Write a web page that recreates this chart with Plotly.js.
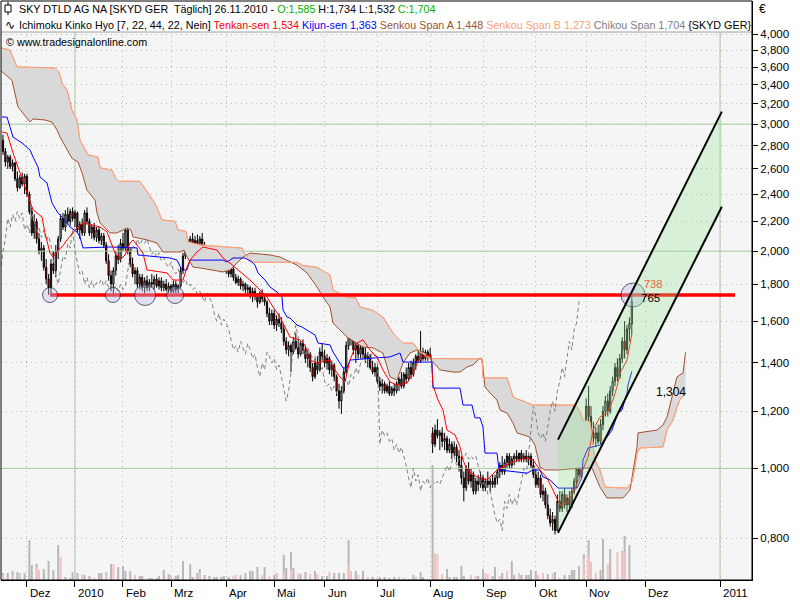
<!DOCTYPE html>
<html><head><meta charset="utf-8">
<script src="https://cdn.plot.ly/plotly-3.0.1.min.js"></script>
<style>html,body{margin:0;padding:0;background:#fff;}#chart{width:800px;height:600px;}</style>
</head><body><div id="chart"></div>
<script>
// ---- daily OHLC, bar 0 = 17.11.2009 ... bar 262 = 26.11.2010 ----
const openP = [
2.85,2.75,2.66,2.70,2.62,2.65,2.52,2.45,2.53,2.48,
2.54,2.40,2.27,2.12,2.20,2.08,2.00,2.02,1.90,1.83,
1.78,1.92,1.88,2.00,2.08,2.22,2.16,2.25,2.20,2.27,
2.22,2.26,2.14,2.18,2.12,2.26,2.20,2.12,2.16,2.09,
2.14,2.07,2.10,2.04,1.94,1.85,1.80,1.88,1.97,1.95,
2.05,2.02,2.14,2.00,1.92,1.86,1.88,1.80,1.84,1.78,
1.82,1.78,1.81,1.80,1.83,1.79,1.82,1.78,1.80,1.77,
1.79,1.76,1.80,1.77,1.79,1.88,1.97,2.04,2.02,2.08,
2.04,2.07,2.05,2.08,2.03,1.98,2.00,1.96,1.99,1.94,
1.96,1.92,1.90,1.93,1.88,1.86,1.89,1.84,1.81,1.83,
1.79,1.80,1.77,1.78,1.74,1.76,1.73,1.70,1.75,1.72,
1.70,1.64,1.60,1.64,1.58,1.61,1.59,1.56,1.50,1.46,
1.48,1.45,1.50,1.47,1.44,1.49,1.46,1.42,1.44,1.38,
1.34,1.40,1.37,1.45,1.43,1.40,1.42,1.37,1.39,1.34,
1.28,1.24,1.28,1.36,1.48,1.58,1.52,1.46,1.48,1.44,
1.47,1.44,1.42,1.43,1.38,1.36,1.38,1.32,1.30,1.31,
1.28,1.30,1.27,1.29,1.28,1.31,1.33,1.30,1.35,1.33,
1.38,1.35,1.40,1.43,1.41,1.45,1.42,1.45,1.43,1.12,
1.08,1.13,1.11,1.12,1.09,1.10,1.06,1.08,1.05,1.07,
1.04,1.01,0.97,0.94,1.00,0.96,0.98,0.93,0.96,0.95,
0.97,0.94,0.96,0.95,0.96,0.95,0.97,0.99,1.01,0.99,
1.02,1.04,1.01,1.03,1.04,1.03,1.05,1.03,1.04,1.03,
1.04,1.01,0.98,0.95,0.97,0.92,0.93,0.89,0.86,0.84,
0.85,0.82,0.90,0.88,0.92,0.89,0.91,0.89,0.93,0.96,
1.00,0.98,1.05,1.14,1.22,1.18,1.12,1.10,1.12,1.09,
1.15,1.20,1.24,1.20,1.28,1.32,1.38,1.34,1.42,1.50,
1.46,1.56,1.585];
const highP = [
2.90,2.78,2.72,2.72,2.68,2.66,2.58,2.55,2.57,2.56,
2.56,2.42,2.30,2.25,2.22,2.12,2.06,2.04,1.95,1.86,
1.95,2.00,2.04,2.10,2.25,2.26,2.28,2.30,2.29,2.30,
2.28,2.27,2.20,2.22,2.28,2.30,2.22,2.18,2.19,2.16,
2.16,2.12,2.12,2.06,1.98,1.88,1.90,2.00,2.04,2.08,
2.12,2.17,2.16,2.02,1.96,1.90,1.90,1.86,1.86,1.84,
1.85,1.83,1.86,1.85,1.86,1.84,1.84,1.82,1.83,1.81,
1.80,1.82,1.82,1.80,1.90,1.99,2.06,2.08,2.10,2.12,
2.10,2.11,2.10,2.12,2.06,2.02,2.03,2.01,2.00,1.98,
1.97,1.95,1.94,1.94,1.91,1.90,1.90,1.86,1.85,1.84,
1.82,1.81,1.80,1.79,1.78,1.78,1.75,1.76,1.77,1.74,
1.71,1.67,1.66,1.66,1.63,1.64,1.62,1.58,1.52,1.50,
1.49,1.52,1.54,1.51,1.50,1.51,1.48,1.46,1.45,1.40,
1.42,1.43,1.47,1.49,1.46,1.44,1.43,1.41,1.40,1.35,
1.31,1.30,1.38,1.50,1.64,1.62,1.55,1.50,1.50,1.49,
1.50,1.47,1.45,1.44,1.41,1.40,1.39,1.34,1.33,1.32,
1.31,1.32,1.30,1.31,1.32,1.34,1.36,1.36,1.38,1.40,
1.41,1.42,1.44,1.46,1.55,1.47,1.46,1.46,1.47,1.14,
1.15,1.17,1.13,1.14,1.12,1.11,1.10,1.09,1.09,1.08,
1.06,1.04,0.99,1.01,1.02,1.00,0.99,0.97,0.98,0.99,
0.98,0.97,0.99,0.97,0.98,0.98,1.00,1.02,1.04,1.03,
1.05,1.05,1.04,1.05,1.06,1.05,1.06,1.05,1.06,1.05,
1.05,1.03,1.00,0.99,0.98,0.95,0.94,0.92,0.88,0.87,
0.86,0.92,0.93,0.93,0.94,0.92,0.93,0.94,0.97,1.02,
1.04,1.06,1.16,1.25,1.30,1.22,1.16,1.14,1.15,1.17,
1.22,1.26,1.27,1.30,1.34,1.40,1.42,1.44,1.52,1.60,
1.58,1.62,1.734];
const lowP = [
2.72,2.62,2.60,2.60,2.58,2.50,2.42,2.44,2.46,2.40,
2.38,2.25,2.10,2.08,2.05,1.98,1.94,1.88,1.80,1.74,
1.74,1.86,1.84,1.95,2.06,2.14,2.13,2.18,2.17,2.20,
2.16,2.12,2.08,2.10,2.10,2.18,2.10,2.08,2.07,2.06,
2.05,2.04,2.02,1.92,1.82,1.76,1.74,1.85,1.92,1.93,
2.00,2.00,1.98,1.90,1.84,1.80,1.78,1.77,1.76,1.75,
1.76,1.76,1.78,1.77,1.78,1.77,1.76,1.76,1.76,1.75,
1.75,1.75,1.75,1.75,1.78,1.86,1.95,2.00,2.00,2.02,
2.00,2.02,2.00,2.02,1.96,1.95,1.94,1.93,1.92,1.91,
1.90,1.87,1.88,1.86,1.84,1.84,1.82,1.80,1.79,1.77,
1.76,1.75,1.74,1.72,1.70,1.71,1.67,1.69,1.70,1.68,
1.62,1.58,1.58,1.56,1.55,1.57,1.54,1.48,1.44,1.43,
1.36,1.44,1.46,1.42,1.43,1.44,1.40,1.38,1.36,1.32,
1.33,1.35,1.36,1.41,1.38,1.37,1.35,1.34,1.32,1.26,
1.21,1.19,1.27,1.35,1.46,1.48,1.44,1.40,1.42,1.42,
1.42,1.40,1.38,1.37,1.35,1.34,1.31,1.28,1.27,1.27,
1.27,1.26,1.26,1.26,1.27,1.28,1.29,1.29,1.31,1.32,
1.33,1.34,1.37,1.40,1.40,1.41,1.41,1.41,1.42,1.05,
1.07,1.10,1.06,1.07,1.06,1.05,1.05,1.03,1.04,1.02,
0.99,0.95,0.90,0.93,0.95,0.94,0.92,0.92,0.93,0.94,
0.93,0.93,0.94,0.93,0.94,0.94,0.95,0.97,0.98,0.98,
1.00,1.00,1.00,1.01,1.02,1.02,1.02,1.02,1.02,1.01,
1.00,0.97,0.94,0.94,0.91,0.90,0.88,0.85,0.83,0.82,
0.81,0.82,0.87,0.87,0.88,0.87,0.88,0.88,0.92,0.94,
0.97,0.97,1.04,1.12,1.15,1.10,1.08,1.07,1.08,1.08,
1.13,1.18,1.18,1.19,1.26,1.30,1.32,1.33,1.40,1.42,
1.44,1.50,1.532];
const closeP = [
2.75,2.66,2.70,2.62,2.65,2.52,2.45,2.53,2.48,2.54,
2.40,2.27,2.12,2.20,2.08,2.00,2.02,1.90,1.83,1.78,
1.92,1.88,2.00,2.08,2.22,2.16,2.25,2.20,2.27,2.22,
2.26,2.14,2.18,2.12,2.26,2.20,2.12,2.16,2.09,2.14,
2.07,2.10,2.04,1.94,1.85,1.80,1.88,1.97,1.95,2.05,
2.02,2.14,2.00,1.92,1.86,1.88,1.80,1.84,1.78,1.82,
1.78,1.81,1.80,1.83,1.79,1.82,1.78,1.80,1.77,1.79,
1.76,1.80,1.77,1.79,1.88,1.97,2.04,2.02,2.08,2.04,
2.07,2.05,2.08,2.03,1.98,2.00,1.96,1.99,1.94,1.96,
1.92,1.90,1.93,1.88,1.86,1.89,1.84,1.81,1.83,1.79,
1.80,1.77,1.78,1.74,1.76,1.73,1.70,1.75,1.72,1.70,
1.64,1.60,1.64,1.58,1.61,1.59,1.56,1.50,1.46,1.48,
1.45,1.50,1.47,1.44,1.49,1.46,1.42,1.44,1.38,1.34,
1.40,1.37,1.45,1.43,1.40,1.42,1.37,1.39,1.34,1.28,
1.24,1.28,1.36,1.48,1.58,1.52,1.46,1.48,1.44,1.47,
1.44,1.42,1.43,1.38,1.36,1.38,1.32,1.30,1.31,1.28,
1.30,1.27,1.29,1.28,1.31,1.33,1.30,1.35,1.33,1.38,
1.35,1.40,1.43,1.41,1.45,1.42,1.45,1.43,1.44,1.08,
1.13,1.11,1.12,1.09,1.10,1.06,1.08,1.05,1.07,1.04,
1.01,0.97,0.94,1.00,0.96,0.98,0.93,0.96,0.95,0.97,
0.94,0.96,0.95,0.96,0.95,0.97,0.99,1.01,0.99,1.02,
1.04,1.01,1.03,1.04,1.03,1.05,1.03,1.04,1.03,1.04,
1.01,0.98,0.95,0.97,0.92,0.93,0.89,0.86,0.84,0.85,
0.82,0.90,0.88,0.92,0.89,0.91,0.89,0.93,0.96,1.00,
0.98,1.05,1.14,1.22,1.18,1.12,1.10,1.12,1.09,1.15,
1.20,1.24,1.20,1.28,1.32,1.38,1.34,1.42,1.50,1.46,
1.56,1.59,1.704];

// ---- Ichimoku lines (bar index, value) ----
const tenkanIdx = [-0.42,1.67,4.17,7.08,11.25,12.5,16.25,17.5,19.58,20.83,22.92,24.58,26.67,30,33.33,37.08,40.42,43.33,44.58,46.67,48.75,50.83,52.92,54.17,55.83,58.33,60,65.42,68.33,70.83,75,76.67,77.92,80.83,83.33,89.17,91.67,94.58,98.75,102.92,107.08,110,112.5,115.42,117.5,119.58,123.75,125.83,127.92,130.83,136.25,137.5,140.42,142.5,144.58,147.5,150,152.92,155.83,158.33,161.25,164.17,168.33,170.83,173.75,178.33,179.17,181.25,183.33,185,188.33,190.42,191.67,193.33,197.5,201.67,205.83,208.33,211.25,217.5,220.83,223.75,226.67,229.17,232.08,235,237.5,240.42,243.75,245.83,248.75,251.67,254.17,255.83,257.08,260,261.25,262];
const tenkanVal = [2.926,2.916,2.737,2.568,2.333,2.282,2.231,2.12,1.988,1.963,2.007,2.027,2.073,2.14,2.189,2.175,2.161,2.127,2.073,1.988,1.944,1.976,2.053,2.073,2.04,1.988,1.884,1.872,1.866,1.824,1.824,1.901,1.944,1.995,2.027,2.007,1.957,1.926,1.872,1.824,1.767,1.728,1.674,1.621,1.57,1.521,1.507,1.483,1.413,1.40,1.413,1.382,1.339,1.318,1.413,1.492,1.507,1.459,1.427,1.369,1.318,1.305,1.313,1.356,1.427,1.436,1.305,1.244,1.205,1.13,1.113,1.071,1.027,0.995,0.973,0.964,0.995,1.004,1.017,1.034,1.027,0.995,0.97,0.933,0.89,0.896,0.925,0.973,1.037,1.13,1.178,1.193,1.244,1.297,1.356,1.413,1.483,1.534];

const kijunIdx = [-0.42,1.67,2.92,4.17,7.92,11.25,12.5,14.58,15.42,18.33,20.42,22.92,24.58,27.92,30.83,32.08,33.33,44.58,55.83,56.25,69.58,72.5,74.58,76.67,77.92,91.67,93.33,95.83,100.83,103.75,105,106.25,109.17,111.25,114.17,116.25,116.67,118.33,119.58,122.5,124.58,126.67,130,131.25,136.25,137.5,141.67,143.33,144.58,154.17,161.25,165.42,166.67,178.75,179.17,190.42,191.67,195.42,196.67,198.75,200,200.83,205.83,206.67,218.33,220.83,223.75,225,227.92,231.25,239.17,241.25,241.67,243.75,248.75,251.67,253.75,256.25,257.92,260,260.42,262];
const kijunVal = [3.069,3.069,2.973,2.879,2.825,2.763,2.703,2.617,2.535,2.487,2.333,2.259,2.231,2.161,2.127,2.093,2.021,2.027,2.021,1.976,1.957,1.944,1.884,1.884,1.944,1.944,1.932,1.957,1.957,1.932,1.913,1.866,1.824,1.784,1.756,1.728,1.658,1.621,1.616,1.58,1.57,1.555,1.531,1.492,1.483,1.45,1.378,1.378,1.413,1.422,1.427,1.445,1.404,1.404,1.292,1.292,1.224,1.224,1.175,1.175,1.141,1.05,1.05,0.995,0.985,0.995,0.995,0.973,0.964,0.939,0.939,0.973,1.027,1.067,1.077,1.105,1.13,1.193,1.205,1.272,1.305,1.363];

const spanAIdx = [-1.25,3.75,6.25,11.25,12.5,17.5,20.42,22.5,23.75,26.67,28.75,31.25,32.92,35,38.33,39.17,40.42,44.58,47.5,51.67,53.33,54.17,60,64.17,65.42,66.67,73.75,75.42,76.67,79.17,82.08,91.67,94.58,100,102.92,111.25,115.42,119.58,122.5,126.67,130.83,133.33,136.25,137.5,141.67,143.33,150,154.17,158.33,160,161.25,164.17,166.67,169.58,172.5,175.83,179.17,182.08,187.5,190.42,193.33,195.83,198.75,199.58,200.83,202.92,205.83,207.08,210,212.5,214.17,219.58,221.67,223.75,225.83,232.08,240.42,245.42,248.75,251.67,258.33,261.25,264.17,264.58,272.5,275,276.67,279.17,280.83,283.33,284.4];
const spanAVal = [3.566,3.45,3.17,3.02,3.05,3.04,3.02,2.944,2.88,2.76,2.69,2.66,2.57,2.43,2.355,2.26,2.19,2.12,2.12,2.154,2.14,2.093,2.073,2.053,2.021,1.995,1.995,2.007,1.963,1.901,1.896,1.872,1.884,1.963,1.988,1.976,1.963,1.932,1.913,1.866,1.784,1.728,1.674,1.59,1.54,1.521,1.473,1.469,1.445,1.382,1.339,1.326,1.40,1.445,1.459,1.445,1.404,1.369,1.36,1.36,1.382,1.391,1.422,1.418,1.297,1.272,1.244,1.205,1.193,1.156,1.12,1.105,1.077,1.004,0.995,0.995,1.001,1.001,0.942,0.91,0.91,0.933,1.071,1.12,1.13,1.149,1.178,1.272,1.339,1.356,1.448];

const spanBIdx = [-1.25,2.92,5.83,21.67,23.33,24.58,26.67,28.75,30.83,32.08,35.42,39.58,40.42,45.42,46.67,47.92,57.08,60,63.33,66.25,71.67,72.92,76.25,77.08,82.08,99.58,100.42,102.92,105,122.5,125,130.83,136.25,137.5,143.33,147.08,148.75,153.75,158.33,162.5,165.42,166.67,170.83,173.75,177.92,199.58,200,210,211.25,212.5,215.42,220.83,238.33,239.58,241.67,244.58,246.67,248.75,250.83,260,262.08,263.33,264.17,265.42,275,276.67,279.17,280.83,282.08,284.4];
const spanBVal = [3.83,3.80,3.60,3.59,3.543,3.42,3.346,3.139,3.04,2.85,2.72,2.70,2.61,2.59,2.535,2.50,2.50,2.42,2.33,2.21,2.20,2.14,2.13,2.06,2.04,2.02,1.99,1.94,1.93,1.93,1.91,1.90,1.854,1.767,1.728,1.722,1.674,1.658,1.621,1.54,1.507,1.492,1.492,1.45,1.42,1.418,1.335,1.335,1.297,1.256,1.244,1.224,1.224,1.213,1.167,1.16,1.027,0.995,0.942,0.939,0.958,1.004,1.05,1.067,1.071,1.13,1.167,1.216,1.244,1.273];

const chikouShift = 22;

// ---- volume (bar index, volume) ----
const grayIdx = [0,2,4,6,7,9,11,12,14,17,19,21,23,26,28,29,31,34,36,40,41,43,45,48,50,51,53,57,58,61,62,64,65,67,69,72,73,75,78,79,81,82,84,86,88,89,91,92,94,99,101,103,104,106,109,113,114,117,118,120,121,124,126,130,133,135,138,140,142,144,147,150,154,157,159,161,163,169,171,174,175,179,185,186,188,189,191,192,198,200,204,205,208,212,213,216,218,219,220,222,227,230,234,236,237,238,240,242,244,249,250,253,258,259,261];
const grayVol = [7,7,9,8,7,7,40,15,16,11,19,10,35,3,2,8,7,5,4,7,7,8,16,13,14,9,9,4,4,2,2,2,4,10,6,4,5,19,16,3,7,11,5,4,3,3,3,4,3,5,7,9,9,13,13,5,7,25,12,28,12,6,8,9,4,4,7,7,7,40,9,9,3,3,3,2,3,1,5,8,3,115,11,3,3,3,14,4,4,11,4,13,7,19,5,5,5,5,10,9,6,8,5,5,10,10,14,26,40,10,41,31,29,44,35];
const pinkIdx = [0,4,7,14,15,24,33,38,43,46,55,70,82,96,97,108,111,114,117,120,123,128,131,136,144,145,148,152,156,165,167,172,180,181,183,195,197,201,202,207,210,215,223,225,229,232,242,244,245,247,252,256,258,259];
const pinkVol = [5,5,7,12,10,23,6,2,7,16,5,5,7,4,5,5,4,7,7,10,7,6,6,8,15,9,5,3,2,3,2,3,27,26,6,5,4,7,6,4,9,7,5,7,7,2,21,24,18,7,16,28,28,27];

// ---- drawn objects ----
const supportIdx = [19.6, 305];
const supportLevel = [1.739, 1.739];
const circleIdx = [19.6, 45.8, 59.2, 71.7, 262.5];
const circleVal = [1.739, 1.739, 1.739, 1.739, 1.739];
const circleSize = [15, 15, 21, 17, 24];
const channelIdx = [231.25, 299.5];
const channelLow = [0.814, 2.305];
const channelHigh = [1.096, 3.122];

// ---- axes ----
const priceTicks = [0.8,1.0,1.2,1.4,1.6,1.8,2.0,2.2,2.4,2.6,2.8,3.0,3.2,3.4,3.6,3.8,4.0];
const priceTickText = ['0,800','1,000','1,200','1,400','1,600','1,800','2,000','2,200','2,400','2,600','2,800','3,000','3,200','3,400','3,600','3,800','4,000'];
const greenLevels = [1.0, 2.0, 3.0];
const monthIdx = [10,30,50,70,93,113,134,156,178,200,222,243,267.5,298.75];
const monthText = ['Dez','2010','Feb','Mrz','Apr','Mai','Jun','Jul','Aug','Sep','Okt','Nov','Dez','2011'];
const yearIdx = [30, 298.75];

const barIdx = closeP.map((_, k) => k);
const FONT = 'Liberation Sans, Arial, sans-serif';
const HDR = 10.75;
const GRID = 'rgb(176,192,176)';

const traces = [];
greenLevels.forEach(v => traces.push({type:'scatter', mode:'lines', x:[-5, 320], y:[v, v],
  line:{color:'#a9cba0', width:1}, hoverinfo:'skip'}));
// cloud
traces.push({type:'scatter', mode:'lines', x:spanBIdx, y:spanBVal, line:{color:'#ffa07a', width:1}, hoverinfo:'skip'});
traces.push({type:'scatter', mode:'lines', x:spanAIdx, y:spanAVal, fill:'tonexty', fillcolor:'#d9d9d9', line:{color:'#a0522d', width:1}, hoverinfo:'skip'});
traces.push({type:'scatter', mode:'lines', x:spanBIdx, y:spanBVal, line:{color:'#ffa07a', width:1}, hoverinfo:'skip'});
// chikou
traces.push({type:'scatter', mode:'lines', x:barIdx.map(k => k - chikouShift), y:closeP,
  line:{color:'#808080', width:1, dash:'4px,3px'}, hoverinfo:'skip'});
// candles
traces.push({type:'candlestick', x:barIdx, open:openP, high:highP, low:lowP, close:closeP,
  increasing:{line:{color:'#000', width:1}, fillcolor:'#ffffff'},
  decreasing:{line:{color:'#000', width:1}, fillcolor:'#ff0000'},
  whiskerwidth:0, hoverinfo:'skip'});
// kijun / tenkan
traces.push({type:'scatter', mode:'lines', x:kijunIdx, y:kijunVal, line:{color:'#0000ff', width:1}, hoverinfo:'skip'});
traces.push({type:'scatter', mode:'lines', x:tenkanIdx, y:tenkanVal, line:{color:'#ff0000', width:1}, hoverinfo:'skip'});
// support line
traces.push({type:'scatter', mode:'lines', x:supportIdx, y:supportLevel, line:{color:'#ff0000', width:3.5}, hoverinfo:'skip'});
// circles
traces.push({type:'scatter', mode:'markers', x:circleIdx, y:circleVal,
  marker:{symbol:'circle', size:circleSize, color:'rgba(190,190,235,0.55)', line:{color:'#202040', width:1}}, hoverinfo:'skip'});
// channel
traces.push({type:'scatter', mode:'lines', x:channelIdx, y:channelLow, line:{color:'#000', width:2}, hoverinfo:'skip'});
traces.push({type:'scatter', mode:'lines', x:channelIdx, y:channelHigh, fill:'tonexty', fillcolor:'rgba(150,230,150,0.30)', line:{color:'#000', width:2}, hoverinfo:'skip'});
// volume
traces.push({type:'bar', x:grayIdx, y:grayVol, yaxis:'y2', width:0.85, marker:{color:'#b8b8b8', line:{width:0}}, hoverinfo:'skip'});
traces.push({type:'bar', x:pinkIdx, y:pinkVol, yaxis:'y2', width:0.85, marker:{color:'#f2c2c2', line:{width:0}}, hoverinfo:'skip'});

// paper helpers (plot area: x 1..752, y 1..580 px)
const px = v => (v - 1) / 751;
const py = v => (580 - v) / 579;

const annotations = [];
monthIdx.forEach((m, k) => annotations.push({x:m, xref:'x', y:py(593), yref:'paper', text:monthText[k],
  showarrow:false, xanchor:'left', yanchor:'middle', xshift:1, font:{family:FONT, size:11.5, color:'#000'}}));
annotations.push({x:px(17), y:py(8.5), xref:'paper', yref:'paper', xanchor:'left', yanchor:'middle', showarrow:false,
  text:'SKY DTLD AG NA [SKYD GER\u00a0 Täglich] 26.11.2010 - <span style="color:#00b000">O:1,585</span> H:1,734 L:1,532 <span style="color:#00b000">C:1,704</span>',
  font:{family:FONT, size:HDR, color:'#000'}});
annotations.push({x:px(3), y:py(25), xref:'paper', yref:'paper', xanchor:'left', yanchor:'middle', showarrow:false,
  text:'\u223F', font:{family:'DejaVu Sans', size:12, color:'#000'}});
annotations.push({x:px(17), y:py(25), xref:'paper', yref:'paper', xanchor:'left', yanchor:'middle', showarrow:false,
  text:'Ichimoku Kinko Hyo [7, 22, 44, 22, Nein] <span style="color:#ff0000">Tenkan-sen 1,534</span> <span style="color:#0000ff">Kijun-sen 1,363</span> <span style="color:#a0522d">Senkou Span A 1,448</span> <span style="color:#ffa07a">Senkou Span B 1,273</span> <span style="color:#808080">Chikou Span 1,704</span> {SKYD GER}',
  font:{family:FONT, size:HDR, color:'#000'}});
annotations.push({x:px(4), y:py(41.5), xref:'paper', yref:'paper', xanchor:'left', yanchor:'middle', showarrow:false,
  text:'\u00a9 www.tradesignalonline.com', font:{family:FONT, size:HDR, color:'#000'}});
annotations.push({x:px(757), y:py(9), xref:'paper', yref:'paper', xanchor:'left', yanchor:'middle', showarrow:false,
  text:'\u20ac', font:{family:FONT, size:12, color:'#000'}});
annotations.push({x:px(654), y:py(392), xref:'paper', yref:'paper', xanchor:'left', yanchor:'middle', showarrow:false,
  text:'1,304', font:{family:FONT, size:12, color:'#000'}});
annotations.push({x:px(642), y:py(284), xref:'paper', yref:'paper', xanchor:'left', yanchor:'middle', showarrow:false,
  text:'738', font:{family:FONT, size:11, color:'#f06040'}});
annotations.push({x:px(639), y:py(297.5), xref:'paper', yref:'paper', xanchor:'left', yanchor:'middle', showarrow:false,
  text:'765', font:{family:FONT, size:11.5, color:'#000'}});

const shapes = [];
yearIdx.forEach(m => shapes.push({type:'line', xref:'x', yref:'paper', x0:m, x1:m, y0:0, y1:1, layer:'below',
  line:{color:'#a9cba0', width:1}}));
shapes.push({type:'rect', xref:'paper', yref:'paper', x0:0, x1:1, y0:py(32), y1:1, layer:'above',
  fillcolor:'#ffffff', line:{width:0}});
shapes.push({type:'line', xref:'paper', yref:'paper', x0:0, x1:1, y0:py(32), y1:py(32), layer:'above',
  line:{color:'#a0a0a0', width:1}});
shapes.push({type:'rect', xref:'paper', yref:'paper', x0:0, x1:1, y0:0, y1:1, layer:'above',
  line:{color:'#000', width:1}});
// candle icon in header
shapes.push({type:'line', xref:'paper', yref:'paper', x0:px(8), x1:px(8), y0:py(2), y1:py(15), layer:'above', line:{color:'#000', width:1}});
shapes.push({type:'rect', xref:'paper', yref:'paper', x0:px(5), x1:px(11), y0:py(5), y1:py(12), layer:'above', fillcolor:'#ffffff', line:{color:'#000', width:1}});

const layout = {
  width:800, height:600,
  margin:{l:1, r:48, t:1, b:20, pad:0},
  paper_bgcolor:'#ffffff', plot_bgcolor:'#f5f5f5',
  showlegend:false, hovermode:false, barmode:'overlay',
  font:{family:FONT, size:12, color:'#000'},
  xaxis:{type:'linear', range:[-0.83, 312.08], tickvals:monthIdx, ticks:'outside', ticklen:6, tickcolor:'#000',
    showticklabels:false, showgrid:true, gridcolor:GRID, griddash:'1px,4px', gridwidth:1,
    showline:true, linecolor:'#000', linewidth:1, zeroline:false, rangeslider:{visible:false}, fixedrange:true},
  yaxis:{type:'log', side:'right', range:[-0.1547, 0.6478], tickvals:priceTicks, ticktext:priceTickText,
    ticks:'outside', ticklen:5, tickcolor:'#000', showline:true, linecolor:'#000', linewidth:1,
    showgrid:true, gridcolor:GRID, griddash:'1px,4px', gridwidth:1, zeroline:false,
    tickfont:{family:FONT, size:11.5, color:'#000'}, fixedrange:true},
  yaxis2:{overlaying:'y', range:[0, 579], visible:false, showgrid:false, fixedrange:true},
  annotations:annotations, shapes:shapes
};

Plotly.newPlot('chart', traces, layout, {staticPlot:true, displayModeBar:false});
</script>
</body></html>
